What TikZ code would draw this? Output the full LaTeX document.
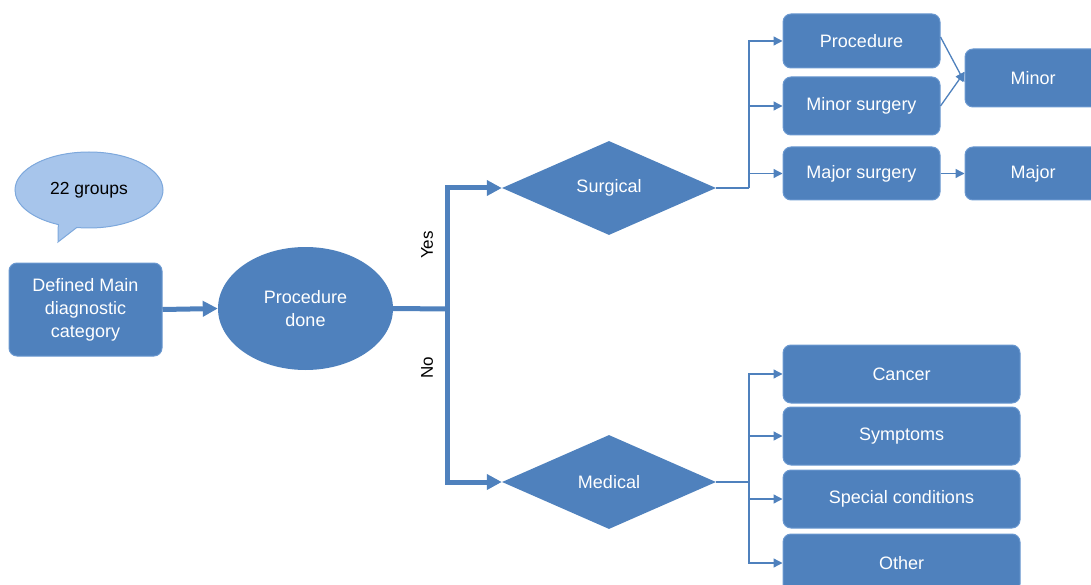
\documentclass[tikz,border=0pt]{standalone}
\usepackage{fontspec}
\setmainfont{Liberation Sans}
\usetikzlibrary{shapes.geometric,shapes.callouts,arrows.meta}
\definecolor{boxblue}{HTML}{4F81BD}
\definecolor{boxedge}{HTML}{6A98D0}
\definecolor{calloutfill}{HTML}{A7C5EB}
\definecolor{calloutedge}{HTML}{7DA8DC}
\tikzset{
  box/.style={draw=boxedge,line width=1pt,fill=boxblue,rounded corners=8pt,text=white,
    font=\fontsize{18}{23}\selectfont,align=center,inner sep=0pt},
  diam/.style={diamond,fill=boxblue,text=white,font=\fontsize{18}{23}\selectfont,
    minimum width=214pt,minimum height=94pt,inner sep=0pt,aspect=2.28},
  thick line/.style={draw=boxblue,line width=5pt},
  thick conn/.style={thick line,-{Triangle[length=15pt,width=15pt]}},
  thin conn/.style={draw=boxblue,line width=1.3pt,-{Triangle[length=9pt,width=9pt]}},
  thin line/.style={draw=boxblue,line width=1.3pt},
  lbl/.style={font=\fontsize{17}{20}\selectfont,text=black,rotate=90}
}
\begin{document}
\begin{tikzpicture}[x=1pt,y=-1pt]
\useasboundingbox (0,0) rectangle (1091,585);
\clip (0,0) rectangle (1091,585);
% callout
\node[ellipse callout,draw=calloutedge,line width=1pt,fill=calloutfill,
  minimum width=148pt,minimum height=76pt,inner sep=0pt,
  callout absolute pointer={(58,242)},font=\fontsize{17.5}{20}\selectfont] (groups) at (89,190) {22 groups};
% main box
\node[box,minimum width=153pt,minimum height=93pt] (main) at (85.5,309.5) {Defined Main\\diagnostic\\category};
% procedure done
\node[ellipse,fill=boxblue,text=white,font=\fontsize{18}{23}\selectfont,align=center,
  minimum width=175pt,minimum height=123pt,inner sep=0pt] (proc) at (305.5,308.5) {Procedure\\done};
% diamonds
\node[diam] (surg) at (609,188) {Surgical};
\node[diam] (med) at (609,482) {Medical};
% surgical boxes
\node[box,minimum width=157pt,minimum height=54pt] (pr) at (861.5,41) {Procedure};
\node[box,minimum width=157pt,minimum height=58pt] (mis) at (861.5,106) {Minor surgery};
\node[box,minimum width=157pt,minimum height=53pt] (mas) at (861.5,173.5) {Major surgery};
\node[box,minimum width=136pt,minimum height=58pt] (minor) at (1033,78) {Minor};
\node[box,minimum width=136pt,minimum height=53pt] (major) at (1033,173.5) {Major};
% medical boxes
\node[box,minimum width=237pt,minimum height=58pt] (can) at (901.5,374) {Cancer};
\node[box,minimum width=237pt,minimum height=58pt] (sym) at (901.5,436) {Symptoms};
\node[box,minimum width=237pt,minimum height=58pt] (spe) at (901.5,499) {Special conditions};
\node[box,minimum width=237pt,minimum height=58pt] (oth) at (901.5,563) {Other};
% coordinates
\coordinate (j) at (447,309);
\coordinate (ja) at (447,188);
\coordinate (jb) at (447,482);
\coordinate (sj) at (749,188);
\coordinate (mj) at (749,482);
% thick connectors
\draw[thick conn] (main.east) -- (proc.west);
\draw[thick line] (proc.east) -- (j);
\draw[thick line,line cap=rect] (ja) -- (jb);
\draw[thick conn] (ja) -- (surg.west);
\draw[thick conn] (jb) -- (med.west);
\node[lbl] (yes) at (427,245) {Yes};
\node[lbl] (no) at (427,368) {No};
% surgical thin connectors
\draw[thin line] (surg.east) -- (sj);
\draw[thin conn] (sj) -- (sj|-pr.west) -- (pr.west);
\draw[thin conn] (sj|-mis.west) -- (mis.west);
\draw[thin conn] (sj) -- (sj|-mas.west) -- (mas.west);
\draw[thin conn] ([yshift=4pt]pr.east) -- ([yshift=-4pt]minor.west);
\draw[thin conn] (mis.east) -- ([yshift=6pt]minor.west);
\draw[thin conn] (mas.east) -- (major.west);
% medical thin connectors
\draw[thin line] (med.east) -- (mj);
\draw[thin conn] (mj) -- (mj|-can.west) -- (can.west);
\draw[thin conn] (mj|-sym.west) -- (sym.west);
\draw[thin conn] (mj|-spe.west) -- (spe.west);
\draw[thin conn] (mj) -- (mj|-oth.west) -- (oth.west);
\end{tikzpicture}
\end{document}
